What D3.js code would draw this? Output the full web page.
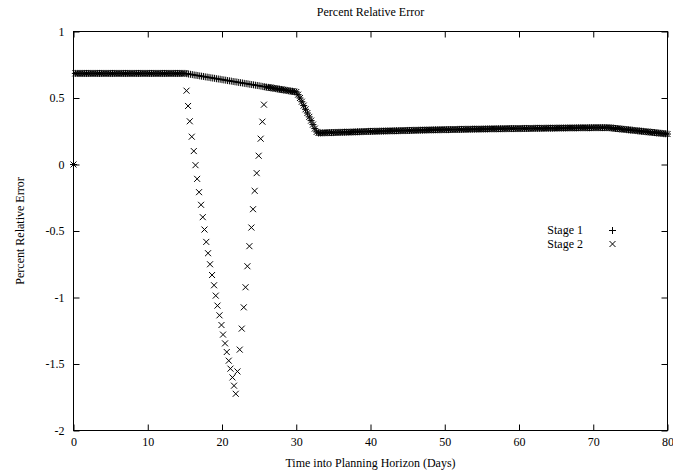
<!DOCTYPE html>
<html>
<head>
<meta charset="utf-8">
<script src="https://d3js.org/d3.v7.min.js"></script>
<style>
  body { margin: 0; background: #fff; }
  text { font-family: "Liberation Serif", "Times New Roman", serif; font-size: 12px; fill: #000; }
</style>
</head>
<body>
<div id="chart"></div>
<script>
// sample times (days, every 6 hours)
var days = [
  0, 0.25, 0.5, 0.75, 1, 1.25, 1.5, 1.75, 2, 2.25, 2.5, 2.75, 3, 3.25, 3.5, 3.75, 4, 4.25, 4.5, 4.75,
  5, 5.25, 5.5, 5.75, 6, 6.25, 6.5, 6.75, 7, 7.25, 7.5, 7.75, 8, 8.25, 8.5, 8.75, 9, 9.25, 9.5, 9.75,
  10, 10.25, 10.5, 10.75, 11, 11.25, 11.5, 11.75, 12, 12.25, 12.5, 12.75, 13, 13.25, 13.5, 13.75, 14, 14.25, 14.5, 14.75,
  15, 15.25, 15.5, 15.75, 16, 16.25, 16.5, 16.75, 17, 17.25, 17.5, 17.75, 18, 18.25, 18.5, 18.75, 19, 19.25, 19.5, 19.75,
  20, 20.25, 20.5, 20.75, 21, 21.25, 21.5, 21.75, 22, 22.25, 22.5, 22.75, 23, 23.25, 23.5, 23.75, 24, 24.25, 24.5, 24.75,
  25, 25.25, 25.5, 25.75, 26, 26.25, 26.5, 26.75, 27, 27.25, 27.5, 27.75, 28, 28.25, 28.5, 28.75, 29, 29.25, 29.5, 29.75,
  30, 30.25, 30.5, 30.75, 31, 31.25, 31.5, 31.75, 32, 32.25, 32.5, 32.75, 33, 33.25, 33.5, 33.75, 34, 34.25, 34.5, 34.75,
  35, 35.25, 35.5, 35.75, 36, 36.25, 36.5, 36.75, 37, 37.25, 37.5, 37.75, 38, 38.25, 38.5, 38.75, 39, 39.25, 39.5, 39.75,
  40, 40.25, 40.5, 40.75, 41, 41.25, 41.5, 41.75, 42, 42.25, 42.5, 42.75, 43, 43.25, 43.5, 43.75, 44, 44.25, 44.5, 44.75,
  45, 45.25, 45.5, 45.75, 46, 46.25, 46.5, 46.75, 47, 47.25, 47.5, 47.75, 48, 48.25, 48.5, 48.75, 49, 49.25, 49.5, 49.75,
  50, 50.25, 50.5, 50.75, 51, 51.25, 51.5, 51.75, 52, 52.25, 52.5, 52.75, 53, 53.25, 53.5, 53.75, 54, 54.25, 54.5, 54.75,
  55, 55.25, 55.5, 55.75, 56, 56.25, 56.5, 56.75, 57, 57.25, 57.5, 57.75, 58, 58.25, 58.5, 58.75, 59, 59.25, 59.5, 59.75,
  60, 60.25, 60.5, 60.75, 61, 61.25, 61.5, 61.75, 62, 62.25, 62.5, 62.75, 63, 63.25, 63.5, 63.75, 64, 64.25, 64.5, 64.75,
  65, 65.25, 65.5, 65.75, 66, 66.25, 66.5, 66.75, 67, 67.25, 67.5, 67.75, 68, 68.25, 68.5, 68.75, 69, 69.25, 69.5, 69.75,
  70, 70.25, 70.5, 70.75, 71, 71.25, 71.5, 71.75, 72, 72.25, 72.5, 72.75, 73, 73.25, 73.5, 73.75, 74, 74.25, 74.5, 74.75,
  75, 75.25, 75.5, 75.75, 76, 76.25, 76.5, 76.75, 77, 77.25, 77.5, 77.75, 78, 78.25, 78.5, 78.75, 79, 79.25, 79.5, 79.75,
  80
];

// Stage 1 percent relative error (one row per 5 days)
var stage1 = [
  0, 0.685, 0.685, 0.685, 0.685, 0.685, 0.685, 0.685, 0.685, 0.685, 0.685, 0.685, 0.685, 0.685, 0.685, 0.685, 0.685, 0.685, 0.685, 0.685,
  0.685, 0.685, 0.685, 0.685, 0.685, 0.685, 0.685, 0.685, 0.685, 0.685, 0.685, 0.685, 0.685, 0.685, 0.685, 0.685, 0.685, 0.685, 0.685, 0.685,
  0.685, 0.685, 0.685, 0.685, 0.685, 0.685, 0.685, 0.685, 0.685, 0.685, 0.685, 0.685, 0.685, 0.685, 0.685, 0.685, 0.685, 0.685, 0.685, 0.685,
  0.685, 0.683, 0.680, 0.678, 0.676, 0.673, 0.671, 0.669, 0.666, 0.664, 0.662, 0.659, 0.657, 0.655, 0.652, 0.650, 0.648, 0.645, 0.643, 0.641,
  0.638, 0.636, 0.634, 0.631, 0.629, 0.627, 0.624, 0.622, 0.620, 0.617, 0.615, 0.613, 0.610, 0.608, 0.606, 0.603, 0.601, 0.599, 0.596, 0.594,
  0.592, 0.589, 0.587, 0.585, 0.582, 0.580, 0.578, 0.575, 0.573, 0.571, 0.568, 0.566, 0.564, 0.561, 0.559, 0.557, 0.554, 0.552, 0.550, 0.547,
  0.545, 0.525, 0.500, 0.472, 0.443, 0.415, 0.387, 0.358, 0.330, 0.300, 0.270, 0.245, 0.237, 0.237, 0.238, 0.238, 0.239, 0.239, 0.240, 0.240,
  0.240, 0.241, 0.241, 0.242, 0.242, 0.242, 0.243, 0.243, 0.243, 0.244, 0.244, 0.245, 0.245, 0.246, 0.246, 0.247, 0.247, 0.248, 0.248, 0.249,
  0.249, 0.249, 0.250, 0.250, 0.250, 0.251, 0.251, 0.251, 0.252, 0.252, 0.252, 0.253, 0.253, 0.253, 0.254, 0.254, 0.254, 0.255, 0.255, 0.255,
  0.256, 0.256, 0.256, 0.257, 0.257, 0.257, 0.258, 0.258, 0.258, 0.259, 0.259, 0.259, 0.260, 0.260, 0.260, 0.261, 0.261, 0.261, 0.261, 0.262,
  0.262, 0.262, 0.262, 0.263, 0.263, 0.263, 0.263, 0.264, 0.264, 0.264, 0.264, 0.265, 0.265, 0.265, 0.265, 0.266, 0.266, 0.266, 0.266, 0.266,
  0.267, 0.267, 0.267, 0.267, 0.268, 0.268, 0.268, 0.268, 0.268, 0.269, 0.269, 0.269, 0.269, 0.269, 0.270, 0.270, 0.270, 0.270, 0.270, 0.270,
  0.270, 0.270, 0.271, 0.271, 0.271, 0.271, 0.271, 0.271, 0.272, 0.272, 0.272, 0.272, 0.272, 0.272, 0.273, 0.273, 0.273, 0.273, 0.273, 0.273,
  0.274, 0.274, 0.274, 0.274, 0.274, 0.274, 0.275, 0.275, 0.275, 0.275, 0.275, 0.275, 0.276, 0.276, 0.276, 0.276, 0.276, 0.276, 0.276, 0.277,
  0.277, 0.277, 0.277, 0.277, 0.277, 0.277, 0.277, 0.277, 0.277, 0.276, 0.274, 0.273, 0.271, 0.270, 0.268, 0.267, 0.265, 0.264, 0.262, 0.261,
  0.259, 0.258, 0.256, 0.255, 0.253, 0.252, 0.250, 0.249, 0.247, 0.246, 0.244, 0.243, 0.241, 0.240, 0.238, 0.237, 0.235, 0.234, 0.232, 0.231,
  0.229
];

// Stage 2 departs from stage 1 between day 15 and day 26
var dipDays = [
  15.22, 15.43, 15.66, 15.93, 16.20, 16.43, 16.65, 16.91, 17.18, 17.41, 17.64, 17.88, 18.12, 18.39, 18.66,
  18.93, 19.16, 19.39, 19.66, 19.93, 20.14, 20.41, 20.64, 20.91, 21.14, 21.41, 21.62, 21.85, 22.08, 22.39,
  22.66, 22.93, 23.17, 23.42, 23.69, 23.96, 24.18, 24.40, 24.67, 24.94, 25.21, 25.44, 25.65
];
var dipValues = [
  0.555, 0.440, 0.325, 0.209, 0.101, -0.005, -0.108, -0.208, -0.303, -0.396, -0.489, -0.582, -0.667, -0.750, -0.831,
  -0.908, -0.986, -1.061, -1.134, -1.207, -1.279, -1.345, -1.410, -1.475, -1.535, -1.601, -1.663, -1.724, -1.556, -1.392,
  -1.234, -1.074, -0.923, -0.765, -0.614, -0.474, -0.336, -0.198, -0.065, 0.066, 0.194, 0.322, 0.450
];

var xTicks = [0, 10, 20, 30, 40, 50, 60, 70, 80];
var yTicks = [-2, -1.5, -1, -0.5, 0, 0.5, 1];

var width = 673, height = 474;
var plotL = 73.5, plotR = 667.5, plotT = 31.5, plotB = 430.5;

var svg = d3.select("#chart").append("svg")
            .attr("width", width)
            .attr("height", height);

svg.append("rect")
   .attr("width", width)
   .attr("height", height)
   .attr("fill", "#fff");

var x = d3.scaleLinear().domain([0, 80]).range([plotL, plotR]);
var y = d3.scaleLinear().domain([-2, 1]).range([plotB, plotT]);

// axes, ticks pointing inward, mirrored on top/right
svg.append("g")
   .attr("transform", "translate(0," + plotB + ")")
   .call(d3.axisBottom(x).tickValues(xTicks).tickSizeInner(-6).tickSizeOuter(0).tickPadding(7));
svg.append("g")
   .attr("transform", "translate(0," + plotT + ")")
   .call(d3.axisTop(x).tickValues(xTicks).tickSizeInner(-6).tickSizeOuter(0).tickFormat(""));
svg.append("g")
   .attr("transform", "translate(" + plotL + ",0)")
   .call(d3.axisLeft(y).tickValues(yTicks).tickSizeInner(-6).tickSizeOuter(0).tickPadding(9)
           .tickFormat(function(d) { return String(d); }));
svg.append("g")
   .attr("transform", "translate(" + plotR + ",0)")
   .call(d3.axisRight(y).tickValues(yTicks).tickSizeInner(-6).tickSizeOuter(0).tickFormat(""));

svg.selectAll(".domain").remove();
svg.selectAll(".tick line").attr("stroke", "#000");
svg.selectAll(".tick text")
   .attr("font-family", "Liberation Serif")
   .attr("font-size", 12)
   .attr("fill", "#000");

svg.append("rect")
   .attr("x", plotL)
   .attr("y", plotT)
   .attr("width", plotR - plotL)
   .attr("height", plotB - plotT)
   .attr("fill", "none")
   .attr("stroke", "#000");

// labels
svg.append("text")
   .attr("x", (plotL + plotR) / 2)
   .attr("y", 16)
   .attr("text-anchor", "middle")
   .text("Percent Relative Error");
svg.append("text")
   .attr("x", (plotL + plotR) / 2)
   .attr("y", 467)
   .attr("text-anchor", "middle")
   .text("Time into Planning Horizon (Days)");
svg.append("text")
   .attr("transform", "translate(24," + ((plotT + plotB) / 2) + ") rotate(-90)")
   .attr("text-anchor", "middle")
   .text("Percent Relative Error");

// marker shapes
var plus = "M-3.5,0H3.5M0,-3.5V3.5";
var cross = "M-3,-3L3,3M-3,3L3,-3";

var s1 = days.map(function(d, i) { return { day: d, value: stage1[i] }; });
var s2 = s1.filter(function(p) { return p.day < 15.1 || p.day > 25.9; })
           .concat(dipDays.map(function(d, i) { return { day: d, value: dipValues[i] }; }));

svg.append("g")
   .selectAll("path")
   .data(s1)
   .enter()
   .append("path")
   .attr("d", plus)
   .attr("transform", function(d) { return "translate(" + x(d.day) + "," + y(d.value) + ")"; })
   .attr("stroke", "#000")
   .attr("stroke-width", 1)
   .attr("fill", "none");

svg.append("g")
   .selectAll("path")
   .data(s2)
   .enter()
   .append("path")
   .attr("d", cross)
   .attr("transform", function(d) { return "translate(" + x(d.day) + "," + y(d.value) + ")"; })
   .attr("stroke", "#000")
   .attr("stroke-width", 1)
   .attr("fill", "none");

// legend
var legend = [ { name: "Stage 1", mark: plus }, { name: "Stage 2", mark: cross } ];
var key = svg.append("g");
key.selectAll("text")
   .data(legend)
   .enter()
   .append("text")
   .attr("x", 583)
   .attr("y", function(d, i) { return 234 + i * 13.5; })
   .attr("text-anchor", "end")
   .text(function(d) { return d.name; });
key.selectAll("path")
   .data(legend)
   .enter()
   .append("path")
   .attr("d", function(d) { return d.mark; })
   .attr("transform", function(d, i) { return "translate(612.5," + (230.5 + i * 13.5) + ")"; })
   .attr("stroke", "#000")
   .attr("fill", "none");
</script>
</body>
</html>
